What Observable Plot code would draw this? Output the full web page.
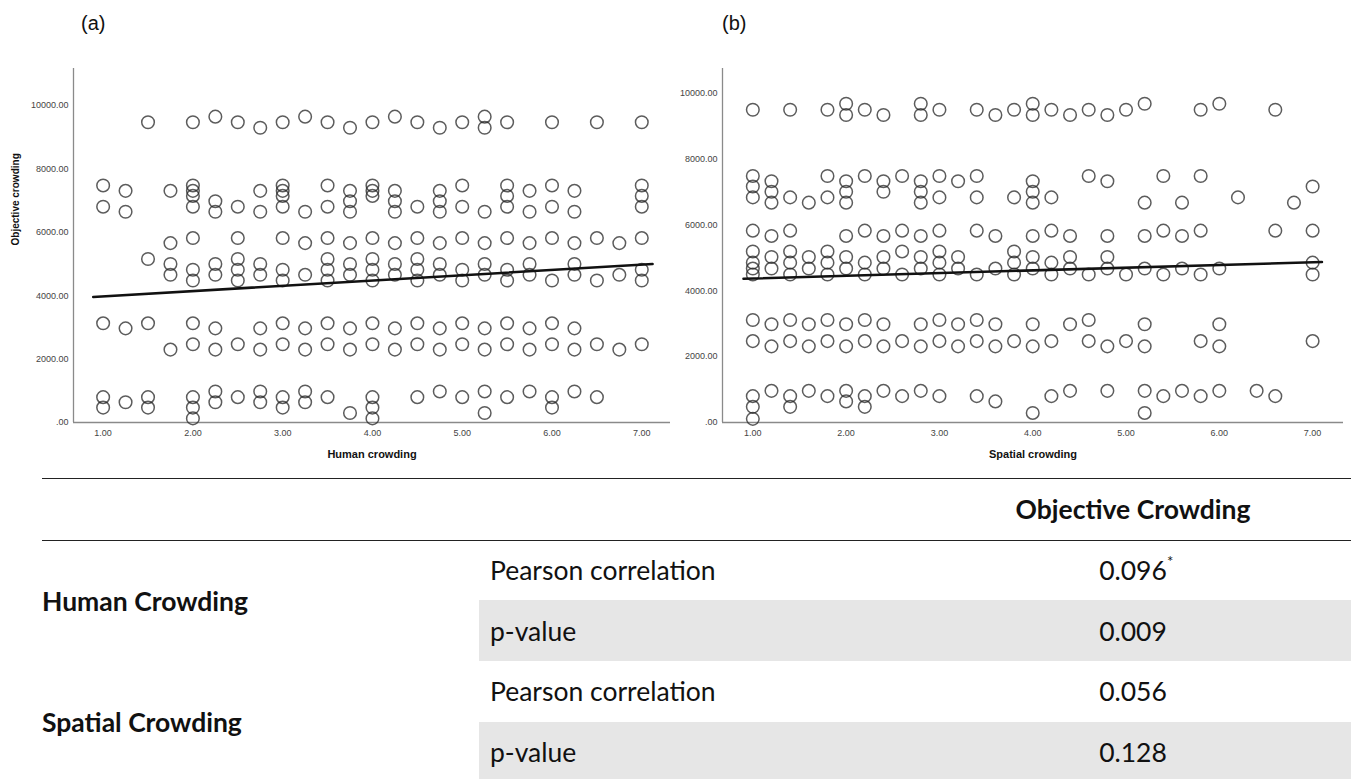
<!DOCTYPE html>
<html><head><meta charset="utf-8">
<script src="https://cdn.jsdelivr.net/npm/d3@7"></script>
<script src="https://cdn.jsdelivr.net/npm/@observablehq/plot@0.6"></script>
<style>
body{margin:0;background:#fff;width:1351px;height:779px;position:relative;overflow:hidden;font-family:"Liberation Sans",Arial,sans-serif;}
.abs{position:absolute;}
.plab{font-size:20px;color:#111;font-family:"Liberation Sans",Arial,sans-serif;}
.t{position:absolute;font-family:Lato,"Open Sans",sans-serif;font-size:26.5px;color:#111;line-height:1;white-space:nowrap;}
.b{font-weight:bold;}
.hline{position:absolute;left:42px;width:1309px;height:0;border-top:1.5px solid #222;}
.grey{position:absolute;left:479px;width:872px;background:#e6e6e6;}
</style></head><body>
<script>
// ---------- DATA ----------
const humanX = [1.00,1.25,1.50,1.75,2.00,2.25,2.50,2.75,3.00,3.25,3.50,3.75,4.00,4.25,4.50,4.75,5.00,5.25,5.50,5.75,6.00,6.25,6.50,6.75,7.00];
const humanY = [
 [7480,6810,3130,800,470],
 [7310,6650,2970,640],
 [9475,5160,3130,800,470],
 [7310,5660,5000,4660,2300],
 [9475,7480,7310,7150,6810,5820,4820,4480,3130,2470,800,470,130],
 [9650,6980,6650,5000,4660,2970,2300,980,640],
 [9475,6810,5820,5160,4820,4480,2470,800],
 [9300,7310,6650,5000,4660,2970,2300,980,640],
 [9475,7480,7310,7150,6810,5820,4820,4480,3130,2470,800,470],
 [9650,6650,5660,4660,2970,2300,980,640],
 [9475,7480,6810,5820,5160,4820,4480,3130,2470,800],
 [9300,7310,6980,6650,5660,5000,4660,2970,2300,300],
 [9475,7480,7310,7150,5820,5160,4820,4480,3130,2470,800,470,130],
 [9650,7310,6980,6650,5660,5000,4660,2970,2300],
 [9475,6810,5820,5160,4820,4480,3130,2470,800],
 [9300,7310,6980,6650,5660,5000,4660,2970,2300,980],
 [9475,7480,6810,5820,4820,4480,3130,2470,800],
 [9650,9300,6650,5660,5000,4660,2970,2300,980,300],
 [9475,7480,7150,6810,5820,4820,4480,3130,2470,800],
 [7310,6650,5660,5000,4660,2970,2300,980],
 [9475,7480,6810,5820,4480,3130,2470,800,470],
 [7310,6650,5660,5000,4660,2970,2300,980],
 [9475,5820,4480,2470,800],
 [5660,4660,2300],
 [9475,7480,7150,6810,5820,4820,4480,2470]
];
const spatialX = [1.0,1.2,1.4,1.6,1.8,2.0,2.2,2.4,2.6,2.8,3.0,3.2,3.4,3.6,3.8,4.0,4.2,4.4,4.6,4.8,5.0,5.2,5.4,5.6,5.8,6.0,6.2,6.4,6.6,6.8,7.0];
const spatialY = [
 [9490,7480,7160,6830,5820,5190,4850,4670,4490,3110,2470,800,475,110],
 [7320,7000,6670,5660,5020,4670,2980,2310,960],
 [9490,6830,5820,5190,4850,4490,3110,2470,800,475],
 [6670,5020,4670,2980,2310,960],
 [9490,7480,6830,5190,4850,4490,3110,2470,800],
 [9670,9330,7320,7000,6670,5660,5020,4670,2980,2310,960,640],
 [9490,7480,5820,4850,4490,3110,2470,800,475],
 [9330,7320,7000,5660,5020,4670,2980,2310,960],
 [7480,5820,5190,4490,2470,800],
 [9670,9330,7320,7000,6670,5660,5020,4670,2980,2310,960],
 [9490,7480,6830,5820,5190,4850,4490,3110,2470,800],
 [7320,5020,4670,2980,2310],
 [9490,7480,6830,5820,4490,3110,2470,800],
 [9330,5660,4670,2980,2310,640],
 [9490,6830,5190,4850,4490,2470],
 [9670,9330,7320,7000,6670,5660,5020,4670,2980,2310,290],
 [9490,6830,5820,4850,4490,2470,800],
 [9330,5660,5020,4670,2980,960],
 [9490,7480,4490,3110,2470],
 [9330,7320,5660,5020,4670,2310,960],
 [9490,4490,2470],
 [9670,6670,5660,4670,2980,2310,960,290],
 [7480,5820,4490,800],
 [6670,5660,4670,960],
 [9490,7480,5820,4490,2470,800],
 [9670,4670,2980,2310,960],
 [6830],
 [960],
 [9490,5820,800],
 [6670],
 [7160,5820,4850,4490,2470]
];
// fit lines (end points)
const humanFitX = [0.89, 7.12];
const humanFitY = [3960, 5000];
const spatialFitX = [0.90, 7.10];
const spatialFitY = [4360, 4870];
const xTicks = [1,2,3,4,5,6,7];
const yTicks = [0,2000,4000,6000,8000,10000];
const panelLabels = ["(a)", "(b)"];
const xTitles = ["Human crowding", "Spatial crowding"];
const yTitle = "Objective crowding";
// table
const tableHeader = "Objective Crowding";
const rowGroups = ["Human Crowding", "Spatial Crowding"];
const statNames = ["Pearson correlation", "p-value", "Pearson correlation", "p-value"];
const statValues = ["0.096", "0.009", "0.056", "0.128"];
const statMarks = ["*", "", "", ""];

// ---------- CHARTS ----------
function panel(xs, ys, fx, fy, o) {
  const pts = xs.flatMap((x, i) => ys[i].map(y => ({x, y})));
  const fit = fx.map((x, i) => ({x, y: fy[i]}));
  const marks = [
    Plot.ruleX([o.xd[0]], {stroke: "#8a8a8a", strokeWidth: 1.3}),
    Plot.ruleY([o.yd[0]], {stroke: "#8a8a8a", strokeWidth: 1.3}),
    Plot.axisX({ticks: xTicks, tickFormat: d => d.toFixed(2), tickSize: 0, tickPadding: 7, label: null, fill: "#444"}),
    Plot.axisY({ticks: yTicks, tickFormat: d => d === 0 ? ".00" : d.toFixed(2), tickSize: 0, tickPadding: 5, label: null, fill: "#444"}),
    Plot.dot(pts, {x: "x", y: "y", r: 6.3, stroke: "#262626", strokeOpacity: 0.75, strokeWidth: 1.5, fill: "none"}),
    Plot.line(fit, {x: "x", y: "y", stroke: "#111", strokeWidth: 2.6}),
    Plot.text([o.xTitle], {frameAnchor: "bottom", dy: 35, fontWeight: "bold", fontSize: 11, fill: "#111"})
  ];
  if (o.yTitle) marks.push(Plot.text([o.yTitle], {frameAnchor: "left", dx: -58, rotate: -90, fontWeight: "bold", fontSize: 10, fill: "#111"}));
  return Plot.plot({
    width: o.width, height: 410,
    marginTop: 8, marginBottom: 48, marginLeft: o.ml, marginRight: o.mr,
    x: {domain: o.xd}, y: {domain: o.yd},
    style: {fontFamily: "Liberation Sans, Arial, sans-serif", fontSize: "9px", background: "white", overflow: "visible"},
    marks
  });
}

const a = panel(humanX, humanY, humanFitX, humanFitY, {width: 680, ml: 73, mr: 10, xd: [0.67, 7.32], yd: [0, 11170], xTitle: xTitles[0], yTitle});
const b = panel(spatialX, spatialY, spatialFitX, spatialFitY, {width: 671, ml: 42, mr: 8, xd: [0.675, 7.331], yd: [0, 10740], xTitle: xTitles[1]});
[[a, 0], [b, 680]].forEach(([el, left]) => {
  el.style.position = "absolute"; el.style.left = left + "px"; el.style.top = "60px";
  document.body.appendChild(el);
});

function addDiv(cls, css, html) {
  const d = document.createElement("div");
  d.className = cls; d.style.cssText = css; d.innerHTML = html;
  document.body.appendChild(d); return d;
}
addDiv("abs plab", "left:81px;top:12px;", panelLabels[0]);
addDiv("abs plab", "left:722px;top:12px;", panelLabels[1]);

// table
addDiv("hline", "top:478px;", "");
addDiv("hline", "top:540px;", "");
addDiv("grey", "top:600px;height:61px;", "");
addDiv("grey", "top:722px;height:57px;", "");
const colC = 1133;
addDiv("t b", `left:${colC}px;top:509px;transform:translate(-50%,-50%);`, tableHeader);
const rowY = [570, 631, 691, 752];
statNames.forEach((s, i) => {
  addDiv("t", `left:490px;top:${rowY[i]}px;transform:translateY(-50%);`, s);
  addDiv("t", `left:${colC}px;top:${rowY[i]}px;transform:translate(-50%,-50%);`, statValues[i] + (statMarks[i] ? `<sup style="font-size:15px;position:absolute;top:-3px">${statMarks[i]}</sup>` : ""));
});
addDiv("t b", "left:42px;top:601px;transform:translateY(-50%);", rowGroups[0]);
addDiv("t b", "left:42px;top:722px;transform:translateY(-50%);", rowGroups[1]);
</script>
</body></html>
